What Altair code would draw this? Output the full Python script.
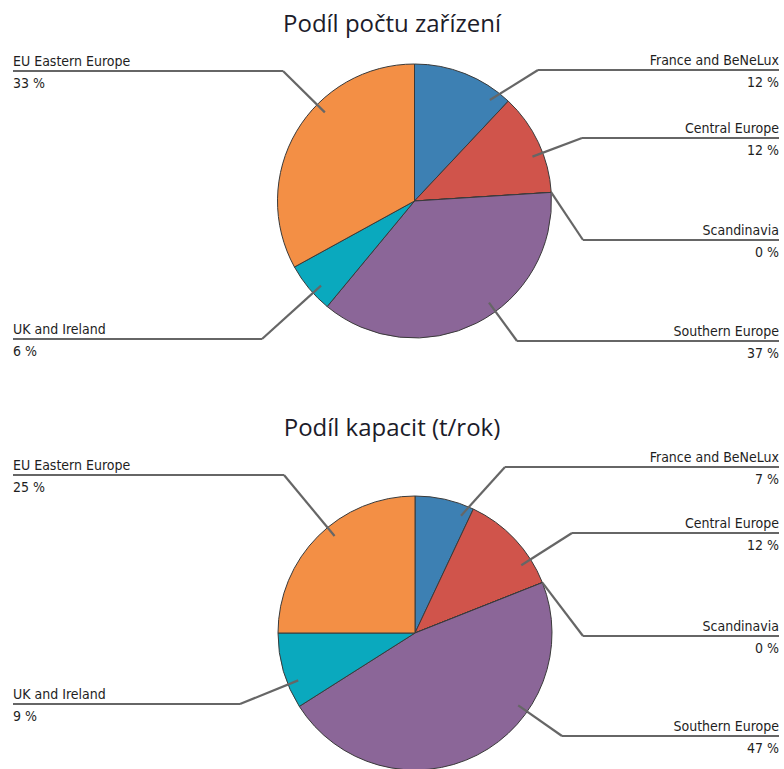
import math
import altair as alt
import pandas as pd

# ---- data ----
regions = ["France and BeNeLux", "Central Europe", "Scandinavia",
           "Southern Europe", "UK and Ireland", "EU Eastern Europe"]
count_share = [12, 12, 0, 37, 6, 33]
capacity_share = [7, 12, 0, 47, 9, 25]
slice_colors = ["#3d80b3", "#d0544b", "#8a8a8a", "#8b6698", "#0aa9be", "#f38f45"]
titles = ["Podíl počtu zařízení", "Podíl kapacit (t/rok)"]

# ---- layout (pixels) ----
W, H = 784, 769
LEFT_X, RIGHT_X = 13, 779
LABEL_FONT = "'Liberation Sans Narrow', 'DejaVu Sans Condensed', Roboto, sans-serif"
pies = [
    dict(title=titles[0], values=count_share, cx=414.5, cy=201, r=137, title_y=32,
         lines={"France and BeNeLux": ("R", 70, 538), "Central Europe": ("R", 138, 582),
                "Scandinavia": ("R", 240, 583), "Southern Europe": ("R", 341, 517),
                "UK and Ireland": ("L", 339, 262), "EU Eastern Europe": ("L", 71, 283)}),
    dict(title=titles[1], values=capacity_share, cx=415, cy=633, r=137, title_y=436,
         lines={"France and BeNeLux": ("R", 467, 505), "Central Europe": ("R", 533, 572),
                "Scandinavia": ("R", 636, 583), "Southern Europe": ("R", 736, 562),
                "UK and Ireland": ("L", 704, 240), "EU Eastern Europe": ("L", 475, 284)}),
]

color_scale = alt.Scale(domain=regions, range=slice_colors)
X = lambda f: alt.X(f, type="quantitative", scale=None, axis=None)
Y = lambda f: alt.Y(f, type="quantitative", scale=None, axis=None)

layers = []
for p in pies:
    cx, cy, r = p["cx"], p["cy"], p["r"]
    arc_df = pd.DataFrame({"region": regions, "value": p["values"], "idx": range(len(regions))})
    layers.append(
        alt.Chart(arc_df).mark_arc(radius=r, stroke="#3a3a3a", strokeWidth=1).encode(
            x=alt.value(cx), y=alt.value(cy),
            theta=alt.Theta("value:Q", stack=True),
            order=alt.Order("idx:Q"),
            color=alt.Color("region:N", scale=color_scale, legend=None),
        )
    )
    # leader lines computed from slice angles
    segs, lefts, rights = [], [], []
    total = sum(p["values"])
    cum = 0.0
    for name, v in zip(regions, p["values"]):
        a0 = cum / total * 360
        a1 = (cum + v) / total * 360
        cum += v
        side, ly, ex = p["lines"][name]
        if v == 0:
            ang, rr = a0, r
        else:
            d = math.degrees(math.atan2(ex - cx, cy - ly)) % 360
            m = 0.15 * (a1 - a0)
            ang, rr = min(max(d, a0 + m), a1 - m), 0.92 * r
        px = cx + rr * math.sin(math.radians(ang))
        py = cy - rr * math.cos(math.radians(ang))
        outer = LEFT_X if side == "L" else RIGHT_X
        segs.append(dict(x=px, y=py, x2=ex, y2=ly))
        segs.append(dict(x=ex, y=ly, x2=outer, y2=ly))
        tgt = lefts if side == "L" else rights
        tgt.append(dict(x=outer, y=ly - 5, t=name))
        tgt.append(dict(x=outer, y=ly + 17, t=f"{v} %"))
    layers.append(
        alt.Chart(pd.DataFrame(segs)).mark_rule(color="#666666", strokeWidth=2.2).encode(
            x=X("x"), y=Y("y"), x2="x2", y2="y2")
    )
    for rows, al in ((lefts, "left"), (rights, "right")):
        layers.append(
            alt.Chart(pd.DataFrame(rows)).mark_text(
                align=al, baseline="alphabetic", font=LABEL_FONT,
                fontSize=14, color="#1e1e1e").encode(x=X("x"), y=Y("y"), text="t:N")
        )
    layers.append(
        alt.Chart(pd.DataFrame([dict(x=392, y=p["title_y"], t=p["title"])])).mark_text(
            align="center", baseline="alphabetic", font="Open Sans", fontSize=24,
            color="#1c1c2a").encode(x=X("x"), y=Y("y"), text="t:N")
    )

chart = alt.layer(*layers).properties(
    width=W, height=H, padding=0, autosize="none", background="white"
).configure_view(stroke=None)

chart.save("out.html", embed_options={"renderer": "svg", "actions": False})
